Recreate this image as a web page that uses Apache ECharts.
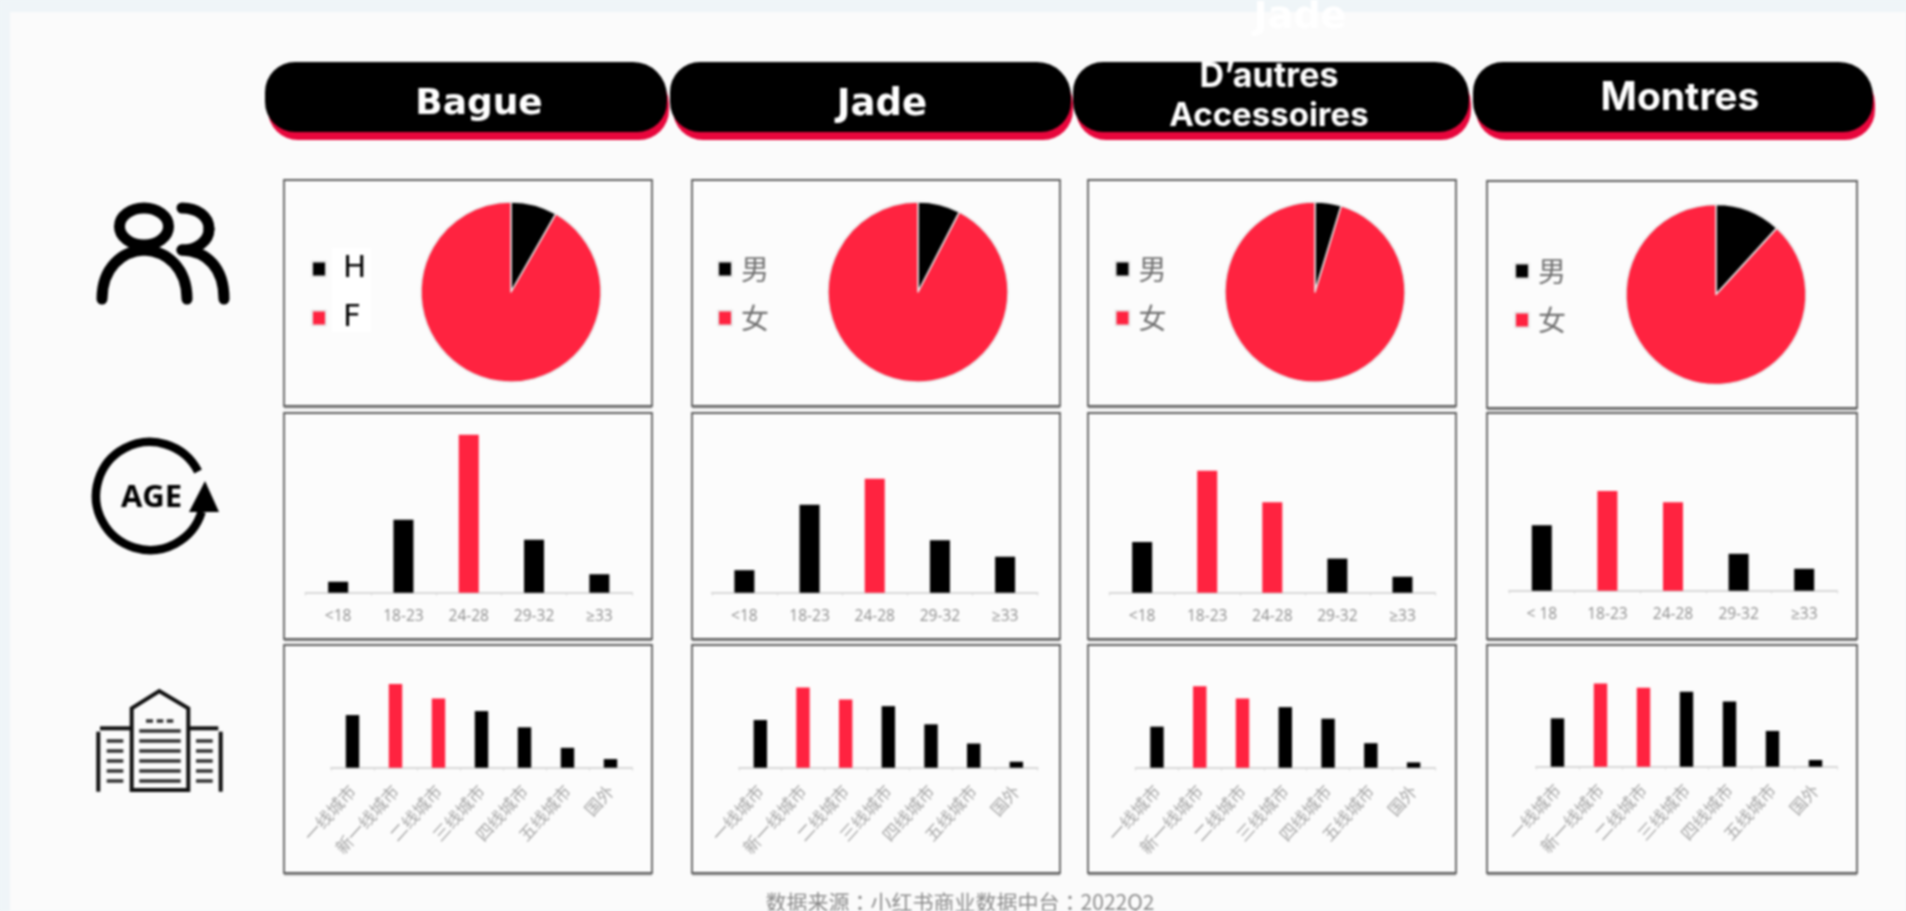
<!DOCTYPE html>
<html>
<head>
<meta charset="utf-8">
<script src="https://cdn.jsdelivr.net/npm/echarts@6/dist/echarts.min.js"></script>
<style>
html,body{margin:0;padding:0;background:#eff5f8;overflow:hidden}
#c{width:1906px;height:911px;filter:blur(0.8px)}
</style>
</head>
<body>
<div id="c"></div>
<script>
// ---- data (shares in %) ----
const maleShare = [8.3, 7.6, 4.7, 11.8];
const genderNames = [['H','F'],['男','女'],['男','女'],['男','女']];
const ageLabels = [
  ['<18','18-23','24-28','29-32','≥33'],
  ['<18','18-23','24-28','29-32','≥33'],
  ['<18','18-23','24-28','29-32','≥33'],
  ['< 18','18-23','24-28','29-32','≥33']
];
const ageBague = [3.5, 23.3, 50.5, 16.9, 5.9];
const ageJade = [7.2, 28.1, 36.4, 16.8, 11.5];
const ageAutres = [16.2, 39.0, 28.9, 10.9, 5.1];
const ageMontres = [20.9, 31.9, 28.3, 11.8, 7.0];
const cityLabels = ['一线城市','新一线城市','二线城市','三线城市','四线城市','五线城市','国外'];
const cityBague = [15.9, 25.3, 20.9, 17.1, 12.2, 6.0, 2.6];
const cityJade = [14.4, 24.2, 20.6, 18.6, 13.1, 7.3, 1.8];
const cityAutres = [12.4, 24.6, 20.9, 18.3, 14.8, 7.4, 1.6];
const cityMontres = [12.3, 21.2, 20.1, 19.1, 16.6, 9.1, 1.7];
const ageHighlight = [[2],[2],[1,2],[1,2]];
const cityHighlight = [[1,2],[1,2],[1,2],[1,2]];
const headers = [['Bague'],['Jade'],['D’autres','Accessoires'],['Montres']];
const source = '数据来源：小红书商业数据中台：2022Q2';

// ---- layout and style ----
const RED='#ff2340', BLACK='#000000';
const ageData=[ageBague,ageJade,ageAutres,ageMontres];
const cityData=[cityBague,cityJade,cityAutres,cityMontres];
const panelX=[[284,652],[692,1060],[1088,1456],[1487,1857]];
const rowY=[[[180,406],[180,406],[180,406],[181,408]],[[413,639],[413,639],[413,639],[413,639]],[[645,873],[645,873],[645,873],[645,873]]];
const pieC=[[511,292],[918,292],[1315,292],[1716,294.5]];
const legendX=[311,717,1114.5,1514];
const legendY=[253,253,253,255];
const ageAxisX=[[305.5,632],[711.8,1037.7],[1109.6,1435],[1509,1837]];
const ageBase=[592.7,592.7,592.7,590.7];
const cityAxisX=[[331,632],[739,1037.7],[1135.6,1435],[1536,1837]];
const cityBase=[767.7,767.7,767.7,766.7];
const cityScale=[3.31,3.31,3.31,3.93];
const pillX=[[265,669],[670,1073],[1073,1471],[1473,1875]];

const grid=[],xAxis=[],yAxis=[],series=[],legend=[],graphic=[];
function barItems(vals,hl){return vals.map((v,i)=>({value:v,itemStyle:{color:hl.includes(i)?RED:BLACK}}));}
function addBars(axisX,base,h,maxV,labels,vals,hl,bw,labelOpt){
  const idx=grid.length;
  grid.push({left:axisX[0],width:axisX[1]-axisX[0],top:base-h,height:h});
  xAxis.push({type:'category',gridIndex:idx,data:labels,z:3,
    axisLine:{lineStyle:{color:'#d8d8d8',width:2}},
    axisTick:{show:true,alignWithLabel:false,length:3,lineStyle:{color:'#d8d8d8'}},
    axisLabel:Object.assign({interval:0,color:'#8f8f8f'},labelOpt),
    splitLine:{show:false}});
  yAxis.push({type:'value',gridIndex:idx,min:0,max:maxV,show:false,splitLine:{show:false}});
  series.push({type:'bar',xAxisIndex:idx,yAxisIndex:idx,barWidth:bw,data:barItems(vals,hl),z:4,silent:true,animation:false});
}
for(let c=0;c<4;c++){
  series.push({type:'pie',center:pieC[c],radius:[0,90],startAngle:90,clockwise:true,silent:true,animation:false,
    label:{show:false},labelLine:{show:false},
    itemStyle:{borderColor:'#e8e8e8',borderWidth:1.5},
    data:[{name:genderNames[c][0],value:maleShare[c],itemStyle:{color:BLACK}},
          {name:genderNames[c][1],value:100-maleShare[c],itemStyle:{color:RED}}]});
  legend.push({data:genderNames[c],orient:'vertical',left:legendX[c],top:legendY[c],padding:0,icon:'rect',itemWidth:14,itemHeight:15,itemGap:17,selectedMode:false,
    textStyle:{fontSize:c===0?31:28,lineHeight:32,padding:[0,0,0,c===0?12:4],color:c===0?'#000000':'#707070',fontFamily:c===0?'"DejaVu Sans"':'"Noto Sans CJK SC"'}});
  addBars(ageAxisX[c],ageBase[c],172,55,ageLabels[c],ageData[c],ageHighlight[c],20,{fontSize:15.5,margin:16,fontFamily:'"Open Sans"'});
  addBars(cityAxisX[c],cityBase[c],30*cityScale[c],30,cityLabels,cityData[c],cityHighlight[c],13.4,{fontSize:17,rotate:48,margin:20,fontFamily:'"Noto Sans CJK SC"',color:'#a6a6a6'});
}

// page surface
graphic.push({type:'rect',z:0,shape:{x:10,y:12,width:1896,height:899},style:{fill:'#fbfbfb'}});
// panels
for(let r=0;r<3;r++)for(let c=0;c<4;c++){
  const x=panelX[c],y=rowY[r][c];
  graphic.push({type:'line',z:1,shape:{x1:x[0],y1:y[1]+1.5,x2:x[1],y2:y[1]+1.5},style:{stroke:'#a8a8a8',lineWidth:2}});
  graphic.push({type:'rect',z:1,shape:{x:x[0],y:y[0],width:x[1]-x[0],height:y[1]-y[0]},style:{fill:'#fcfcfc',stroke:'#5e5e5e',lineWidth:1.8}});
}
// white patch behind H / F
graphic.push({type:'rect',z:1,shape:{x:332,y:248,width:39,height:84},style:{fill:'#ffffff'}});
// header pills
for(let c=0;c<4;c++){
  const x=pillX[c];
  graphic.push({type:'rect',z:2,shape:{x:x[0]+3,y:70,width:x[1]-x[0]-3,height:70,r:[30,34,30,30]},style:{fill:'#e8063c'}});
  graphic.push({type:'rect',z:2,shape:{x:x[0],y:62,width:x[1]-x[0]-2,height:70,r:[30,34,30,30]},style:{fill:'#000000'}});
}
function hText(t,x,y,size,fam,fill){
  graphic.push({type:'text',z:5,style:{text:t,x:x,y:y,fill:fill||'#ffffff',font:'bold '+size+'px '+fam,textAlign:'center',textVerticalAlign:'middle'}});
}
hText(headers[0][0],479,105,36,'"DejaVu Sans"');
hText(headers[1][0],882,105,37,'"DejaVu Sans"');
hText(headers[2][0],1269,77,34,'Inter');
hText(headers[2][1],1269,116,33,'Inter');
hText(headers[3][0],1680,98,39,'Inter');
hText(headers[1][0],1300,18,38,'"DejaVu Sans"');
// footer
graphic.push({type:'text',z:5,style:{text:source,x:960,y:902,fill:'#8a8a8a',font:'21px "Noto Sans CJK TC"',textAlign:'center',textVerticalAlign:'middle'}});

// people icon
const iconStroke={stroke:'#000',fill:null,lineWidth:11,lineCap:'round'};
graphic.push({type:'ellipse',z:5,shape:{cx:144,cy:226.5,rx:24.5,ry:18.5},style:{stroke:'#000',fill:null,lineWidth:11}});
graphic.push({type:'group',z:5,children:[
  {type:'bezierCurve',z:5,shape:{x1:102,y1:299,cpx1:102,cpy1:268,cpx2:122,cpy2:251,x2:144,y2:250},style:iconStroke},
  {type:'bezierCurve',z:5,shape:{x1:144,y1:250,cpx1:167,cpy1:251,cpx2:187,cpy2:268,x2:187,y2:299},style:iconStroke},
  {type:'bezierCurve',z:5,shape:{x1:182,y1:208,cpx1:197,cpy1:208,cpx2:209,cpy2:216,x2:209,y2:229},style:iconStroke},
  {type:'bezierCurve',z:5,shape:{x1:209,y1:229,cpx1:209,cpy1:241,cpx2:197,cpy2:250,x2:182,y2:250},style:iconStroke},
  {type:'bezierCurve',z:5,shape:{x1:182,y1:250,cpx1:207,cpy1:251,cpx2:224,cpy2:268,x2:224,y2:299},style:iconStroke}
]});
// age icon
graphic.push({type:'arc',z:5,shape:{cx:150,cy:496,r:54,startAngle:17*Math.PI/180,endAngle:(360-27)*Math.PI/180,clockwise:true},style:{stroke:'#000',fill:null,lineWidth:8.5}});
graphic.push({type:'polygon',z:5,shape:{points:[[205,481],[189,512],[219,512]]},style:{fill:'#000'}});
graphic.push({type:'text',z:5,style:{text:'AGE',x:151.5,y:498,fill:'#000',font:'bold 31px "Open Sans"',textAlign:'center',textVerticalAlign:'middle'}});
// building icon
const bS={stroke:'#111',lineWidth:4,fill:null};
const bT={stroke:'#333',lineWidth:3.5,fill:null};
graphic.push({type:'polygon',z:5,shape:{points:[[131.7,790],[131.7,708.3],[159.3,691],[188.3,708.3],[188.3,790]]},style:bS});
function bl(x1,y1,x2,y2,s){graphic.push({type:'line',z:5,shape:{x1,y1,x2,y2},style:s});}
bl(98.3,731.7,98.3,791.7,bS);bl(100,728.3,131.7,728.3,bS);bl(188.3,728.3,218.3,728.3,bS);bl(220.7,731.7,220.7,791.7,bS);
[[146,153],[156.7,163.3],[166.7,173.3]].forEach(p=>bl(p[0],721,p[1],721,bT));
[731,741,751,761,771,781].forEach((y,i)=>{
  bl(139.3,y,180.7,y,bT);
  if(i>0){bl(106.7,y,123.3,y,bT);bl(196,y,212.7,y,bT);}
});

const chart=echarts.init(document.getElementById('c'),null,{renderer:'canvas',width:1906,height:911});
chart.setOption({animation:false,backgroundColor:'#eff5f8',tooltip:{show:false},grid,xAxis,yAxis,legend,series,graphic:{elements:graphic}});
</script>
</body>
</html>
